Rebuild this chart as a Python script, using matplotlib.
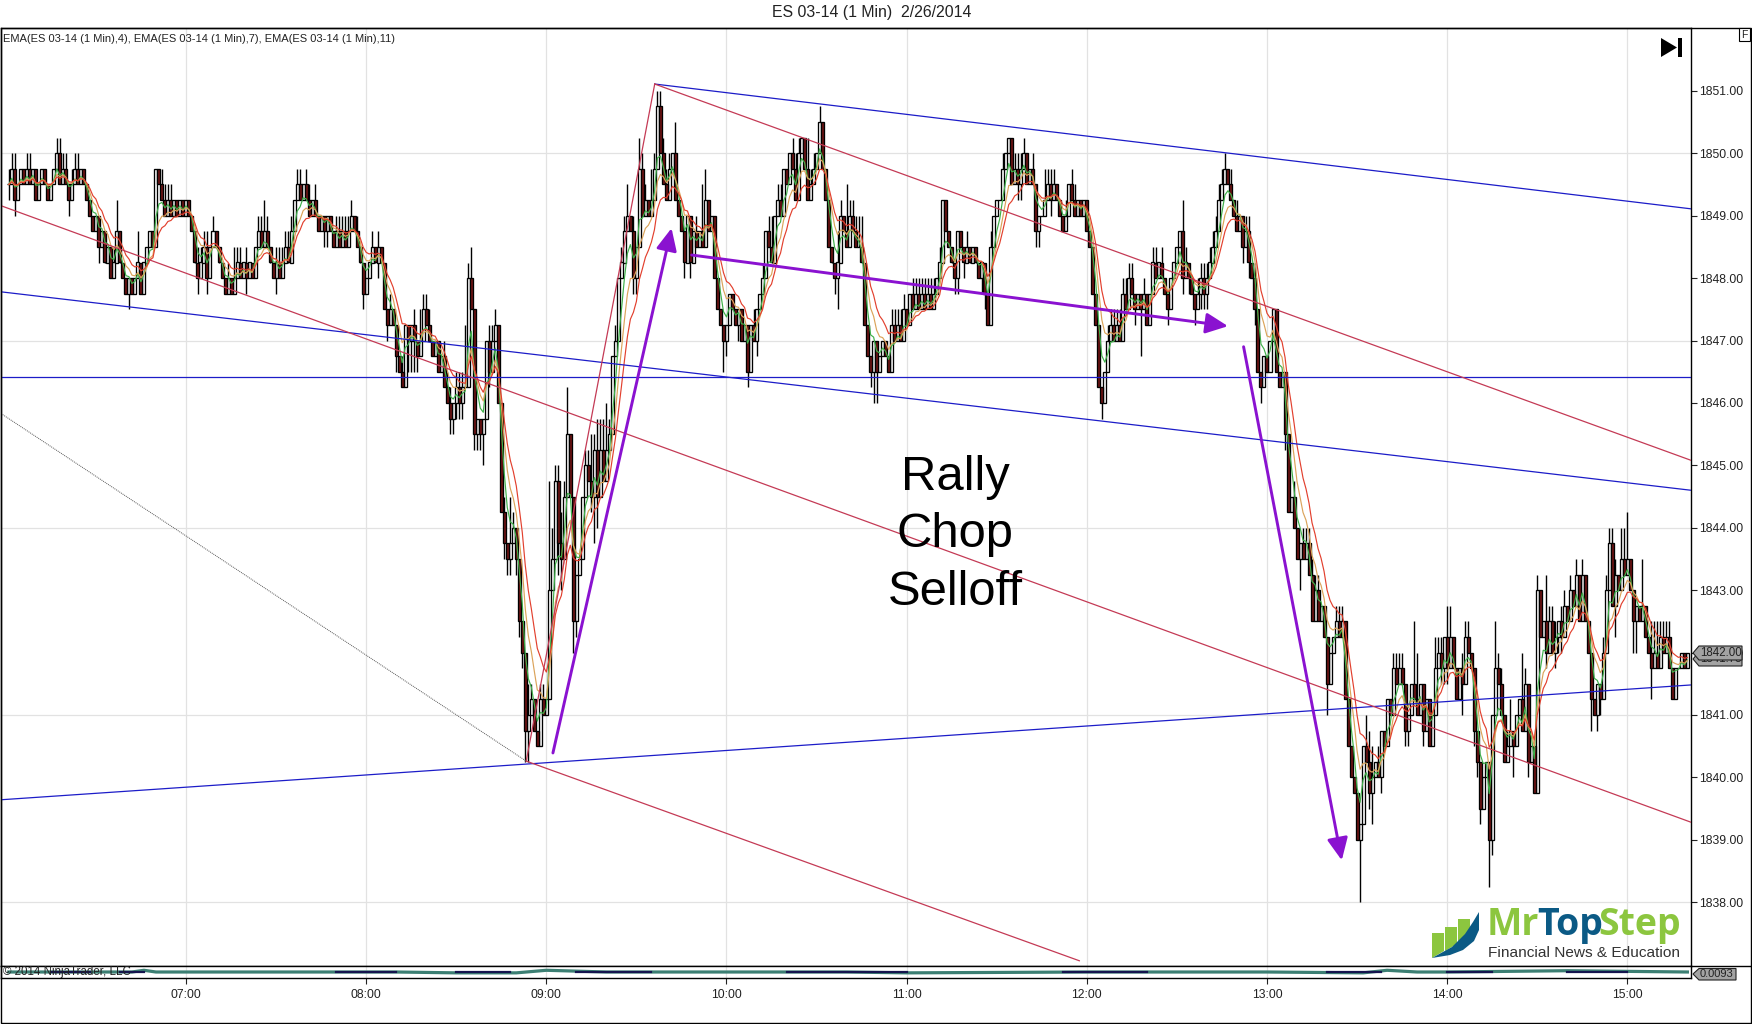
import numpy as np
import matplotlib
matplotlib.use("Agg")
import matplotlib.pyplot as plt
from matplotlib.patches import Polygon, Rectangle

plt.rcParams['font.family'] = ['Liberation Sans', 'DejaVu Sans']

TITLE = "ES 03-14 (1 Min)  2/26/2014"
INDICATOR_LABEL = "EMA(ES 03-14 (1 Min),4), EMA(ES 03-14 (1 Min),7), EMA(ES 03-14 (1 Min),11)"
BASE = 1800.0

# closes, minutes after 06:00, price minus BASE
close_06 = [49.5,49.75,49.25,49.5,49.75,49.5,49.75,49.5,49.75,49.25,
            49.5,49.75,49.5,49.25,49.5,49.75,50.0,49.5,49.75,49.5,
            49.25,49.5,49.75,49.5,49.75,49.5,49.25,49.0,48.75,49.0,
            48.5,48.75,48.25,48.5,48.0,48.25,48.75,48.25,48.0,47.75,
            48.0,47.75,48.0,48.25,47.75,48.25,48.5,48.75,48.5,49.75,
            49.5,49.25,49.0,49.25,49.0,49.25,49.0,49.25,49.0]
close_07 = [49.25,49.0,48.75,48.25,48.0,48.25,48.5,48.0,48.5,48.75,
            48.5,48.25,48.0,47.75,48.0,47.75,48.0,48.25,48.0,48.25,
            48.0,48.25,48.0,48.5,48.75,48.5,48.75,48.5,48.25,48.0,
            48.25,48.0,48.25,48.5,48.25,48.75,49.25,49.5,49.25,49.5,
            49.25,49.0,49.25,49.0,48.75,49.0,48.75,49.0,48.75,48.5,
            48.75,48.5,48.75,48.5,48.75,49.0,48.75,48.5,48.25,47.75]
close_08 = [48.0,48.25,48.5,48.25,48.5,48.25,47.5,47.25,47.5,47.25,
            46.75,46.5,46.25,47.25,47.0,47.25,47.0,46.75,47.0,47.5,
            47.25,47.0,46.75,47.0,46.5,46.75,46.25,46.0,45.75,46.0,
            46.25,46.0,46.25,46.25,48.0,47.5,45.5,45.75,45.5,45.75,47.0,
            46.5,47.0,47.25,46.0,44.25,43.75,43.5,43.75,44.0,43.5,
            42.5,42.0,40.75,41.0,41.25,40.75,40.5,41.25,41.0,41.25]
close_09 = [43.0,43.5,44.75,43.75,43.5,44.5,45.5,44.5,42.5,43.25,
            43.5,44.5,45.0,44.75,44.5,45.25,44.5,45.25,44.75,45.25,
            45.5,46.75,47.0,48.0,48.25,48.75,49.0,48.75,48.0,48.5,
            49.75,49.0,49.25,49.0,49.25,49.75,50.75,50.0,49.5,49.25,
            49.75,50.0,49.25,49.0,48.75,48.25,49.0,48.25,48.75,48.5,
            48.75,48.5,49.25,48.75,49.0,48.0,47.5,47.25,47.0,47.25]
close_10 = [47.75,47.5,47.25,47.5,47.0,47.25,46.5,47.25,47.0,47.5,
            47.75,48.0,48.75,48.5,48.25,49.0,49.25,49.0,49.75,49.5,
            50.0,49.75,49.25,50.0,50.25,49.75,49.25,49.5,49.75,50.0,
            50.5,49.75,49.25,48.5,48.25,48.0,48.25,49.0,48.75,48.5,
            49.0,48.75,48.5,48.5,48.25,47.25,46.75,46.5,47.0,46.5,
            46.75,47.0,46.75,46.5,47.25,47.0,47.25,47.0,47.5,47.25]
close_11 = [47.75,47.5,47.75,47.5,47.75,47.5,47.75,47.5,47.75,48.0,
            48.25,49.25,48.75,48.5,48.25,48.0,48.75,48.5,48.25,48.5,
            48.25,48.5,48.25,48.0,48.25,47.75,47.25,48.5,49.0,49.25,
            49.25,49.75,50.0,50.25,49.5,49.75,49.5,49.75,50.0,49.5,
            49.75,49.5,48.75,49.0,49.0,49.25,49.5,49.25,49.5,49.25,
            49.0,48.75,49.0,49.5,49.25,49.0,49.25,49.0,49.25,48.75]
close_12 = [48.5,47.75,47.25,46.25,46.0,46.5,47.0,47.25,47.0,47.25,
            47.0,47.75,47.5,48.0,47.75,47.5,47.75,47.5,47.75,47.25,
            47.75,48.25,48.0,48.25,48.0,47.75,47.5,48.0,48.25,48.5,
            48.75,48.0,48.25,48.0,47.75,47.5,47.75,48.0,47.75,48.0,
            48.25,48.5,48.75,49.25,49.5,49.75,49.5,49.25,49.0,48.75,
            49.0,48.5,48.75,48.25,48.0,47.5,46.5,46.25,46.75,46.5]
close_13 = [47.0,47.5,46.5,46.25,46.5,45.5,44.25,44.5,44.0,43.5,
            43.75,43.5,43.75,43.25,42.5,43.0,42.5,42.75,42.25,41.5,
            42.0,42.25,42.5,42.25,42.5,41.25,40.5,40.0,39.75,39.0,
            39.25,40.5,40.25,39.75,40.0,40.25,40.0,40.75,40.5,41.25,
            41.0,41.75,41.5,41.75,41.5,40.75,41.0,41.5,41.25,41.0,
            41.5,40.75,41.25,40.5,41.0,41.75,42.0,41.75,42.25,41.75]
close_14 = [42.25,41.75,41.25,41.75,41.5,42.25,42.0,41.75,40.75,40.25,
            39.5,40.0,40.25,39.0,41.0,41.75,41.5,41.0,40.25,40.5,
            40.75,40.5,41.0,41.25,40.75,41.5,40.25,40.5,39.75,43.0,
            42.25,42.5,42.0,42.5,42.0,42.25,42.5,42.25,42.75,42.5,
            43.0,42.75,43.25,42.5,43.25,42.5,42.0,41.25,41.0,41.5,
            41.25,42.0,43.0,43.75,42.75,43.25,43.0,43.5,43.25,43.5]
close_15 = [43.0,42.5,42.75,42.5,42.75,42.25,42.0,41.75,42.0,41.75,
            42.25,42.0,42.25,41.75,41.25,41.75,41.75,42.0,41.75,42.0]

# wick lengths beyond the body, in 0.25 ticks, for bars 1..560
upper_wick = [1,1,1,0,0,0,1,1,0,0, 0,0,0,0,0,0,1,1,1,1, 0,1,1,1,0,0,0,0,0,0, 0,0,0,0,0,1,2,0,0,0,
              0,0,0,2,0,0,0,0,0,0, 0,1,1,1,1,0,0,0,0,0, 0,0,0,1,1,1,1,0,1,0, 0,0,0,1,0,2,1,1,0,1,
              0,0,0,1,1,2,1,0,0,1, 1,1,1,1,1,0,1,1,0,1, 1,0,1,0,0,0,0,0,0,1, 1,1,1,1,1,0,1,0,0,0,
              0,1,0,1,0,0,0,1,0,0, 0,1,0,0,0,1,0,2,1,1, 1,0,0,0,0,1,1,1,0,1, 1,1,4,1,2,0,0,0,0,0,
              1,1,1,0,0,1,0,3,1,0, 0,0,0,2,1,0,0,1,1,0, 7,2,1,1,2,1,3,0,0,0, 0,0,1,1,3,1,2,2,2,3,
              1,0,1,0,1,1,2,0,1,0, 2,1,1,0,2,1,1,1,1,1, 1,0,2,0,0,0,0,0,0,1, 0,3,2,0,0,0,0,0,0,0,
              0,0,0,0,0,0,0,0,1,0, 0,1,0,1,2,0,1,1,0,0, 0,1,1,1,0,0,2,1,1,0, 1,0,0,0,0,0,2,1,0,3,
              1,1,1,2,2,0,0,0,0,0, 0,0,0,0,1,1,1,1,1,0, 0,1,1,1,1,1,1,1,1,0, 1,0,0,0,0,0,0,0,0,1,
              0,0,0,0,0,0,0,1,0,0, 0,1,0,0,0,1,1,1,1,0, 0,1,0,0,0,2,1,1,1,0, 0,0,1,0,1,1,0,0,0,0,
              0,0,0,0,0,0,1,1,1,1, 1,1,1,1,1,0,0,0,1,0, 0,1,1,0,1,0,0,0,0,0, 0,2,1,0,0,0,1,1,1,1,
              1,1,1,1,1,1,0,1,0,1, 0,0,1,1,0,1,0,0,0,0, 0,0,0,0,0,0,0,0,1,0, 0,1,1,1,1,1,1,0,0,0,
              0,0,1,1,1,0,0,0,0,0, 0,0,2,2,2,0,1,0,0,0, 0,1,1,1,1,0,0,0,4,3, 0,0,0,0,0,2,1,1,0,2,
              2,0,0,0,1,1,1,0,0,0, 0,0,0,0,0,3,1,1,0,1, 2,0,0,0,3,1,0,0,0,1, 0,0,3,1,1,1,0,1,1,0,
              1,0,1,0,1,0,0,0,0,0, 0,1,1,1,1,1,0,2,2,3, 0,0,0,0,3,0,0,2,2,2, 1,1,1,1,0,0,0,0,0,0]
lower_wick = [1,0,1,0,0,0,0,0,0,0, 0,0,0,0,0,0,0,0,0,0, 1,0,0,0,0,0,0,0,0,0, 1,0,0,0,0,0,0,0,0,0,
              1,0,0,0,0,0,0,0,0,0, 0,0,0,0,0,0,0,0,0,0, 0,0,0,1,0,0,1,0,0,0, 0,0,0,0,0,0,0,0,0,1,
              0,0,0,0,0,0,0,0,0,1, 0,0,0,0,0,0,0,0,0,0, 0,0,0,0,0,1,1,0,0,0, 0,0,0,0,0,0,0,0,1,0,
              0,0,0,1,0,0,1,0,0,1, 0,0,0,2,2,2,1,0,0,0, 0,0,0,0,0,0,0,1,1,1, 1,1,0,0,0,1,1,1,2,0,
              1,0,0,0,0,1,1,1,0,1, 1,1,2,2,0,0,0,0,0,0, 0,0,0,2,2,0,0,0,2,1, 0,0,0,0,1,3,2,0,0,0,
              0,0,0,0,0,0,0,0,1,1, 0,0,0,0,0,0,0,0,0,0, 0,0,0,0,0,1,0,1,0,0, 0,0,0,0,0,0,0,0,2,1,
              0,0,0,1,0,0,1,0,0,1, 0,0,0,0,0,0,0,0,0,0, 0,0,0,0,0,0,0,0,0,0, 0,0,0,0,0,1,2,0,0,0,
              0,0,0,0,0,0,0,1,2,2, 0,0,0,0,0,0,0,0,0,0, 0,0,0,0,0,0,0,0,0,0, 0,0,0,0,0,1,1,0,1,0,
              0,0,0,0,1,1,0,0,0,0, 0,0,0,0,0,0,1,1,0,0, 0,0,1,1,0,0,0,1,0,0, 0,0,0,0,0,0,0,0,0,0,
              0,0,0,0,1,0,0,0,0,0, 0,0,0,0,0,1,0,3,0,0, 0,0,0,0,0,0,1,0,0,0, 0,1,0,1,0,1,0,1,1,1,
              0,0,0,0,0,0,0,0,0,0, 0,1,0,1,0,1,0,1,0,0, 0,0,0,0,0,1,0,0,0,0, 2,0,0,0,0,0,0,0,0,2,
              0,0,0,0,0,0,0,0,0,0, 4,0,0,1,2,0,0,1,0,0, 0,0,0,0,0,1,1,0,0,0, 0,1,0,0,0,0,0,1,1,1,
              0,0,0,0,2,0,0,0,1,1, 1,0,0,3,1,0,0,0,0,0, 0,2,0,0,0,0,1,0,0,0, 0,0,1,0,0,1,1,1,0,0,
              0,0,0,0,0,0,0,2,0,1, 1,0,0,0,0,2,0,0,0,0, 0,2,2,0,0,0,0,2,0,0, 0,0,0,0,0,0,0,0,0,0]

# price axis and time axis
price_ticks = [1838,1839,1840,1841,1842,1843,1844,1845,1846,1847,1848,1849,1850,1851]
price_grid = [1838,1841,1844,1847,1850]
time_ticks = [60,120,180,240,300,360,420,480,540]
time_labels = ["07:00","08:00","09:00","10:00","11:00","12:00","13:00","14:00","15:00"]

# hand-drawn trend lines as (minute, price, minute, price)
blue_lines = [(216.1,1851.11,561.2,1849.11),(-1.6,1847.78,561.2,1844.60),
              (-1.6,1846.42,561.2,1846.42),(-1.6,1839.64,561.2,1841.48)]
red_lines = [(216.1,1851.11,561.2,1845.08),(173.3,1840.26,216.1,1851.11),
             (-1.6,1849.16,561.2,1839.28),(173.3,1840.26,357.5,1837.06)]
dotted_line = (-1.6,1845.83,173.3,1840.26)
purple_arrows = [(182.2,1840.39,221.7,1848.80),(228.4,1848.37,407.0,1847.23),(412.2,1846.90,444.9,1838.67)]

# lower indicator panel
panel_minutes = [1,30,42,46,50,60,120,130,150,170,180,200,240,280,300,360,420,452,460,470,480,520,560]
panel_values = [0.0,0.0,0.0,0.4,0.0,0.0,0.0,0.0,-0.2,-0.2,0.4,0.0,0.0,0.0,-0.2,0.0,0.0,-0.2,0.4,0.0,0.0,0.3,0.0]
panel_navy = [(15,28),(38,46),(110,130),(150,168),(190,215),(260,300),(352,380),(440,458),(480,495),(520,540)]

# ---------------------------------------------------------------------------
W, H = 1752, 1024
LEFT, RIGHT, TOP, BOT, BOT2 = 1, 1691, 28, 966, 978
fig = plt.figure(figsize=(W/100, H/100), dpi=100, facecolor='white')
ax = fig.add_axes([LEFT/W, (H-BOT)/H, (RIGHT-LEFT)/W, (BOT-TOP)/H])
ax2 = fig.add_axes([LEFT/W, (H-BOT2)/H, (RIGHT-LEFT)/W, (BOT2-BOT)/H])
ov = fig.add_axes([0, 0, 1, 1], zorder=10)
ov.set_xlim(0, W); ov.set_ylim(H, 0); ov.axis('off'); ov.patch.set_alpha(0)

closes = BASE + np.array(close_06+close_07+close_08+close_09+close_10+close_11+close_12+close_13+close_14+close_15)
minutes = np.arange(1, len(closes)+1)
assert len(closes) == len(upper_wick) == len(lower_wick), (len(closes), len(upper_wick), len(lower_wick))
opens = np.r_[closes[0], closes[:-1]]
highs = np.maximum(opens, closes) + 0.25*np.array(upper_wick)
lows = np.minimum(opens, closes) - 0.25*np.array(lower_wick)

def ema(values, n):
    a = 2/(n+1); out = [values[0]]
    for v in values[1:]:
        out.append(a*v + (1-a)*out[-1])
    return np.array(out)

ax.set_xlim(-1.6, 561.2)
ax.set_ylim(1836.976, 1852.008)
ax.set_yticks(price_ticks)
ax.set_yticklabels([f"{p:.2f}" for p in price_ticks])
ax.yaxis.tick_right()
ax.tick_params(axis='y', length=4.3, width=0.8, pad=1.5, labelsize=8.7, colors='#222222')
ax.tick_params(axis='x', length=0, labelbottom=False)
ax.set_xticks(time_ticks)
for s in ax.spines.values():
    s.set_linewidth(1.0); s.set_color('black')
for t in time_ticks:
    ax.axvline(t, color='#e2e2e2', lw=0.9, zorder=1)
for p in price_grid:
    ax.axhline(p, color='#e2e2e2', lw=0.9, zorder=1)

up = closes >= opens
ax.vlines(minutes, lows, highs, color='black', lw=1.0, zorder=2)
ax.bar(minutes[up], (closes-opens)[up], bottom=opens[up], width=1.0, facecolor='white', edgecolor='black', lw=0.95, zorder=3)
ax.bar(minutes[~up], (closes-opens)[~up], bottom=opens[~up], width=1.0, facecolor='#6e1414', edgecolor='black', lw=0.95, zorder=3)

ax.plot(minutes, ema(closes, 4), color='#3fb04a', lw=0.85, zorder=4)
ax.plot(minutes, ema(closes, 7), color='#dba35a', lw=0.85, zorder=4)
ax.plot(minutes, ema(closes, 11), color='#e2402e', lw=0.85, zorder=4)

for x0, y0, x1, y1 in blue_lines:
    ax.plot([x0, x1], [y0, y1], color='#1c1cc8', lw=0.9, zorder=5)
for x0, y0, x1, y1 in red_lines:
    ax.plot([x0, x1], [y0, y1], color='#c43a55', lw=0.9, zorder=5)
ax.plot([dotted_line[0], dotted_line[2]], [dotted_line[1], dotted_line[3]], color='#555555', lw=0.7, ls=(0, (1, 1)), zorder=5)
for x0, y0, x1, y1 in purple_arrows:
    ax.annotate('', xy=(x1, y1), xytext=(x0, y0), zorder=6,
                arrowprops=dict(arrowstyle='-|>,head_length=0.9,head_width=0.42', mutation_scale=15,
                                color='#8a12d0', lw=2.1, shrinkA=0, shrinkB=0))

# lower panel
ax2.set_xlim(-1.6, 561.2); ax2.set_ylim(-1.4, 1.4)
ax2.set_yticks([])
ax2.set_xticks(time_ticks); ax2.set_xticklabels(time_labels)
ax2.tick_params(axis='x', length=4.3, width=0.8, pad=3.5, labelsize=8.7, colors='#222222')
for s in ax2.spines.values():
    s.set_linewidth(1.0)
ax2.plot(panel_minutes, panel_values, color='#3c7f73', lw=2.3, zorder=2)
for a, b in panel_navy:
    ax2.plot([a, b], [0, 0], color='#14144e', lw=1.6, zorder=3)
for t in time_ticks:
    ax2.axvline(t, color='#e2e2e2', lw=0.9, zorder=1)

# chrome in pixels
ov.add_patch(Rectangle((1, 28), W-2, H-29, fill=False, ec='black', lw=1.0))
ov.plot([RIGHT, W-1], [BOT, BOT], color='black', lw=1.0)
ov.text(872, 13, TITLE, ha='center', va='center', fontsize=11.4, color='#222222')
ov.text(3, 39, INDICATOR_LABEL, ha='left', va='center', fontsize=8, color='#222222')
ov.text(3, 972, "\u00a9 2014 NinjaTrader, LLC", ha='left', va='center', fontsize=8.3, color='#222222')
ov.text(955, 490, "Rally", ha='center', va='baseline', fontsize=35.3, color='black')
ov.text(955, 547, "Chop", ha='center', va='baseline', fontsize=35.3, color='black')
ov.text(955, 605, "Selloff", ha='center', va='baseline', fontsize=35.3, color='black')

# F box and jump button
ov.add_patch(Rectangle((1739, 28), 11, 13, fc='white', ec='black', lw=0.8))
ov.text(1744.5, 34.5, "F", ha='center', va='center', fontsize=7.5, color='#222222')
ov.add_patch(Polygon([(1661, 38), (1677, 47.5), (1661, 57)], fc='black', ec='none'))
ov.add_patch(Rectangle((1678, 38), 4, 19, fc='black', ec='none'))

# value flags
for z, yc, txt in ((3.0, 659, "1841.75"), (3.4, 653, "1842.00")):
    ov.add_patch(Polygon([(1693, yc), (1699, yc-7), (1742, yc-7), (1742, yc+7), (1699, yc+7)],
                         fc='#a3a3a3', ec='#222222', lw=0.8, zorder=z))
    ov.text(1700, yc, txt, ha='left', va='center', fontsize=8.3, color='#222222', zorder=z+0.1)
ov.add_patch(Polygon([(1693, 974), (1699, 968.5), (1736, 968.5), (1736, 980), (1699, 980)],
                     fc='#a3a3a3', ec='#222222', lw=0.8))
ov.text(1700, 974, "0.0093", ha='left', va='center', fontsize=8, color='#222222')

# logo
LG, LB = '#8cc63f', '#0b5a85'
ov.add_patch(Polygon([(1432, 933), (1444, 933), (1444, 951), (1432, 958)], fc=LG, ec='none'))
ov.add_patch(Polygon([(1445, 927), (1457, 927), (1457, 944), (1445, 951)], fc=LG, ec='none'))
ov.add_patch(Polygon([(1458, 919), (1470, 919), (1470, 930), (1458, 943)], fc=LG, ec='none'))
ov.add_patch(Polygon([(1432, 958), (1452, 947), (1465, 934), (1473, 922), (1479, 912), (1479, 930), (1474, 941),
                      (1463, 950), (1450, 955)], fc=LB, ec='none'))
ov.text(1487, 935, "Mr", ha='left', va='baseline', fontsize=27, fontweight='bold', color=LG, family='Open Sans')
ov.text(1537, 935, "Top", ha='left', va='baseline', fontsize=27, fontweight='bold', color=LB, family='Open Sans')
ov.text(1598, 935, "Step", ha='left', va='baseline', fontsize=27, fontweight='bold', color=LG, family='Open Sans')
ov.text(1488, 957, "Financial News & Education", ha='left', va='baseline', fontsize=11.1, color='#333333')

fig.savefig("out.png", dpi=100, facecolor='white')
